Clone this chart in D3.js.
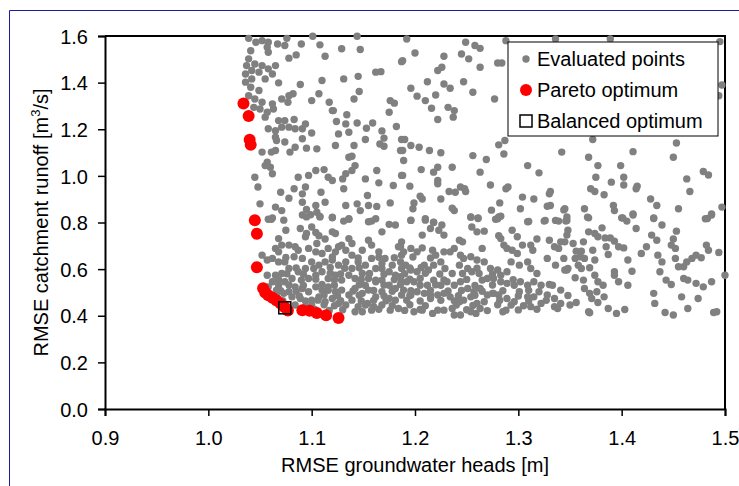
<!DOCTYPE html>
<meta charset="utf-8">
<style>
body { margin: 0; background: #fff; }
text { font-family: 'Liberation Sans', Arial, sans-serif; fill: #000; }
</style>
<body>
<svg width="739" height="486"></svg>
<script src="https://d3js.org/d3.v7.min.js"></script>
<script>

// evaluated points [RMSE heads, RMSE runoff]
var evaluated = [
 [1.039,1.590],[1.046,1.573],[1.052,1.580],[1.058,1.573],[1.057,1.552],[1.067,1.566],[1.076,1.590],[1.074,1.559],
 [1.090,1.566],[1.101,1.599],[1.108,1.562],[1.129,1.545],[1.144,1.599],[1.147,1.542],[1.113,1.513],[1.085,1.519],
 [1.078,1.505],[1.058,1.530],[1.041,1.537],[1.039,1.502],[1.045,1.480],[1.052,1.473],[1.037,1.473],[1.036,1.437],
 [1.042,1.452],[1.049,1.445],[1.058,1.459],[1.065,1.473],[1.062,1.437],[1.055,1.416],[1.068,1.399],[1.042,1.416],
 [1.036,1.402],[1.041,1.380],[1.049,1.366],[1.039,1.344],[1.045,1.330],[1.052,1.316],[1.044,1.294],[1.050,1.287],
 [1.057,1.273],[1.062,1.309],[1.071,1.330],[1.078,1.344],[1.082,1.352],[1.077,1.316],[1.089,1.392],[1.110,1.409],
 [1.131,1.416],[1.145,1.427],[1.162,1.445],[1.167,1.447],[1.187,1.490],[1.100,1.323],[1.107,1.352],[1.117,1.316],
 [1.121,1.280],[1.134,1.262],[1.141,1.330],[1.146,1.362],[1.176,1.323],[1.180,1.312],[1.175,1.273],[1.182,1.212],
 [1.159,1.227],[1.153,1.204],[1.168,1.193],[1.170,1.162],[1.187,1.156],[1.186,1.109],[1.166,1.137],[1.170,1.127],
 [1.152,1.156],[1.144,1.227],[1.133,1.223],[1.136,1.187],[1.126,1.180],[1.124,1.233],[1.123,1.130],[1.141,1.130],
 [1.136,1.080],[1.139,1.084],[1.120,1.280],[1.094,1.223],[1.100,1.184],[1.083,1.242],[1.084,1.202],[1.074,1.237],
 [1.068,1.237],[1.063,1.287],[1.055,1.252],[1.058,1.202],[1.065,1.194],[1.071,1.209],[1.078,1.209],[1.091,1.202],
 [1.091,1.159],[1.095,1.119],[1.105,1.116],[1.084,1.123],[1.079,1.102],[1.074,1.145],[1.066,1.152],[1.065,1.166],
 [1.052,1.102],[1.061,1.102],[1.065,1.109],[1.057,1.059],[1.055,1.044],[1.060,1.037],[1.062,1.009],[1.045,0.994],
 [1.048,0.952],[1.070,0.930],[1.078,0.904],[1.083,0.945],[1.094,0.952],[1.091,0.923],[1.091,0.887],[1.087,0.994],
 [1.097,1.002],[1.104,1.023],[1.112,1.027],[1.116,0.994],[1.120,0.980],[1.109,0.930],[1.113,0.887],[1.104,0.873],
 [1.105,0.844],[1.095,0.856],[1.099,0.833],[1.108,0.826],[1.120,0.823],[1.130,0.987],[1.133,1.009],[1.139,1.023],
 [1.142,1.044],[1.152,0.987],[1.165,0.970],[1.163,1.023],[1.179,0.959],[1.187,1.002],[1.131,0.945],[1.133,0.873],
 [1.144,0.880],[1.154,0.916],[1.155,0.873],[1.163,0.869],[1.176,0.884],[1.147,0.851],[1.136,0.816],[1.162,0.816],
 [1.050,0.880],[1.065,0.866],[1.071,0.851],[1.062,0.819],
 [1.192,1.587],[1.200,1.527],[1.188,1.494],[1.212,1.404],[1.228,1.513],[1.226,1.466],[1.222,1.452],[1.228,1.394],
 [1.234,1.376],[1.196,1.376],[1.202,1.342],[1.210,1.323],[1.220,1.347],[1.216,1.290],[1.232,1.294],[1.238,1.280],
 [1.237,1.252],[1.222,1.242],[1.249,1.573],[1.258,1.559],[1.263,1.547],[1.245,1.523],[1.252,1.502],[1.263,1.466],
 [1.247,1.404],[1.256,1.359],[1.277,1.330],[1.280,1.484],[1.284,1.484],[1.288,1.580],[1.336,1.587],[1.190,1.156],
 [1.196,1.130],[1.204,1.123],[1.214,1.109],[1.225,1.099],[1.188,1.109],[1.189,1.066],[1.188,1.002],[1.206,1.027],
 [1.218,1.016],[1.222,1.037],[1.236,1.037],[1.222,0.980],[1.222,0.966],[1.195,0.956],[1.205,0.913],[1.207,0.901],
 [1.199,0.884],[1.198,0.859],[1.225,0.901],[1.233,0.933],[1.239,0.930],[1.244,0.952],[1.248,0.945],[1.249,0.933],
 [1.256,1.087],[1.269,1.070],[1.263,1.016],[1.273,0.961],[1.281,1.133],[1.287,1.152],[1.286,1.094],[1.288,0.945],
 [1.290,0.952],[1.282,0.884],[1.274,0.853],[1.283,0.827],[1.280,0.816],[1.254,0.823],[1.261,0.819],[1.236,0.861],
 [1.238,0.851],[1.309,1.044],[1.320,1.013],[1.342,1.102],[1.331,0.933],[1.330,0.923],[1.304,0.909],[1.315,0.901],
 [1.302,0.859],[1.328,0.870],[1.331,0.873],[1.344,0.854],[1.310,0.804],[1.326,0.809],[1.336,0.809],[1.347,0.809],
 [1.210,0.816],[1.196,0.809],[1.218,0.801],
 [1.389,1.587],[1.495,1.576],[1.494,1.344],[1.372,1.156],[1.411,1.104],[1.453,1.141],[1.450,1.080],[1.368,1.080],
 [1.377,1.044],[1.399,1.044],[1.375,0.994],[1.390,0.973],[1.402,0.994],[1.402,0.961],[1.415,0.956],[1.414,0.945],
 [1.370,0.945],[1.374,0.933],[1.383,0.919],[1.463,0.987],[1.479,1.019],[1.484,1.004],[1.466,0.933],[1.428,0.901],
 [1.434,0.873],[1.392,0.873],[1.393,0.851],[1.411,0.837],[1.401,0.819],[1.455,0.859],[1.487,0.837],[1.497,0.866],
 [1.345,0.859],[1.364,0.859],[1.367,0.823],[1.431,0.819],[1.481,0.816],[1.497,1.390],
 [1.058,0.814],[1.061,0.814],[1.073,0.810],[1.091,0.832],[1.095,0.824],[1.108,0.824],[1.120,0.820],[1.131,0.806],
 [1.136,0.814],[1.155,0.803],[1.158,0.806],[1.175,0.792],[1.075,0.767],[1.089,0.774],[1.100,0.781],[1.095,0.753],
 [1.104,0.757],[1.094,0.739],[1.107,0.743],[1.113,0.729],[1.120,0.760],[1.123,0.753],[1.136,0.731],[1.129,0.703],
 [1.139,0.710],[1.155,0.724],[1.158,0.703],[1.168,0.760],[1.181,0.789],[1.187,0.717],[1.068,0.731],[1.071,0.703],
 [1.065,0.689],[1.068,0.674],[1.078,0.703],[1.084,0.696],[1.087,0.681],[1.083,0.653],[1.091,0.646],[1.097,0.689],
 [1.105,0.710],[1.104,0.674],[1.110,0.667],[1.116,0.689],[1.123,0.674],[1.126,0.696],[1.133,0.681],[1.139,0.660],
 [1.149,0.681],[1.158,0.646],[1.165,0.674],[1.171,0.646],[1.178,0.617],[1.184,0.696],[1.187,0.660],[1.052,0.660],
 [1.057,0.639],[1.062,0.646],[1.068,0.631],[1.074,0.631],[1.078,0.603],[1.071,0.581],[1.065,0.574],[1.057,0.574],
 [1.062,0.546],[1.068,0.531],[1.074,0.546],[1.081,0.560],[1.087,0.589],[1.094,0.603],[1.100,0.631],[1.107,0.617],
 [1.113,0.631],[1.120,0.639],[1.126,0.617],[1.133,0.631],[1.139,0.603],[1.145,0.631],[1.152,0.617],[1.162,0.603],
 [1.168,0.624],[1.175,0.589],[1.181,0.574],[1.187,0.603],[1.097,0.560],[1.104,0.574],[1.110,0.589],[1.116,0.560],
 [1.123,0.574],[1.129,0.553],[1.136,0.574],[1.142,0.560],[1.149,0.581],[1.155,0.560],[1.162,0.546],[1.168,0.553],
 [1.175,0.531],[1.181,0.517],[1.187,0.546],[1.084,0.524],[1.091,0.517],[1.097,0.503],[1.104,0.524],[1.110,0.510],
 [1.116,0.524],[1.123,0.503],[1.129,0.510],[1.136,0.489],[1.142,0.517],[1.149,0.496],[1.155,0.510],[1.162,0.481],
 [1.168,0.503],[1.175,0.474],[1.181,0.467],[1.187,0.489],[1.081,0.481],[1.089,0.474],[1.100,0.467],[1.107,0.481],
 [1.113,0.460],[1.120,0.474],[1.126,0.453],[1.133,0.446],[1.139,0.467],[1.145,0.439],[1.154,0.453],[1.160,0.439],
 [1.168,0.446],[1.176,0.424],[1.184,0.431],[1.084,0.446],[1.094,0.439],[1.142,0.417],[1.149,0.417],[1.058,0.524],
 [1.066,0.510],[1.073,0.496],[1.078,0.503],
 [1.196,0.810],[1.210,0.810],[1.218,0.800],[1.226,0.789],[1.215,0.774],[1.223,0.767],[1.228,0.746],[1.207,0.746],
 [1.254,0.824],[1.261,0.817],[1.278,0.814],[1.281,0.824],[1.309,0.803],[1.325,0.806],[1.339,0.806],[1.346,0.806],
 [1.255,0.781],[1.260,0.760],[1.267,0.763],[1.294,0.767],[1.299,0.739],[1.281,0.743],[1.283,0.731],[1.318,0.729],
 [1.330,0.724],[1.341,0.717],[1.347,0.746],[1.243,0.724],[1.246,0.717],[1.265,0.689],[1.286,0.703],[1.289,0.689],
 [1.294,0.681],[1.299,0.667],[1.304,0.703],[1.312,0.703],[1.314,0.681],[1.335,0.696],[1.339,0.689],[1.186,0.696],
 [1.189,0.674],[1.196,0.689],[1.202,0.674],[1.207,0.691],[1.217,0.681],[1.220,0.660],[1.228,0.674],[1.234,0.674],
 [1.238,0.689],[1.244,0.660],[1.247,0.646],[1.254,0.653],[1.260,0.639],[1.267,0.631],[1.273,0.603],[1.280,0.596],
 [1.283,0.574],[1.289,0.589],[1.293,0.631],[1.301,0.617],[1.309,0.631],[1.312,0.603],[1.318,0.581],[1.328,0.646],
 [1.336,0.617],[1.344,0.646],[1.347,0.596],[1.186,0.631],[1.191,0.617],[1.196,0.596],[1.202,0.589],[1.209,0.617],
 [1.213,0.596],[1.218,0.617],[1.225,0.631],[1.229,0.603],[1.236,0.581],[1.243,0.617],[1.251,0.603],[1.255,0.589],
 [1.262,0.581],[1.270,0.560],[1.276,0.560],[1.283,0.546],[1.289,0.539],[1.296,0.531],[1.302,0.546],[1.309,0.531],
 [1.315,0.546],[1.322,0.531],[1.333,0.531],[1.341,0.510],[1.186,0.567],[1.192,0.546],[1.199,0.546],[1.205,0.560],
 [1.212,0.531],[1.218,0.553],[1.225,0.531],[1.231,0.546],[1.238,0.531],[1.244,0.546],[1.251,0.517],[1.257,0.503],
 [1.263,0.517],[1.270,0.489],[1.276,0.496],[1.281,0.489],[1.289,0.474],[1.301,0.503],[1.309,0.481],[1.315,0.481],
 [1.320,0.503],[1.328,0.489],[1.335,0.474],[1.341,0.453],[1.189,0.510],[1.196,0.489],[1.202,0.503],[1.209,0.496],
 [1.215,0.474],[1.222,0.489],[1.228,0.496],[1.234,0.481],[1.243,0.460],[1.247,0.467],[1.254,0.481],[1.260,0.453],
 [1.267,0.460],[1.263,0.431],[1.275,0.496],[1.296,0.460],[1.293,0.446],[1.288,0.424],[1.285,0.417],[1.312,0.439],
 [1.322,0.453],[1.335,0.439],[1.338,0.431],[1.199,0.417],[1.207,0.424],[1.217,0.410],[1.228,0.424],[1.236,0.431],
 [1.238,0.403],[1.244,0.403],[1.259,0.410],[1.254,0.417],
 [1.347,0.824],[1.368,0.820],[1.400,0.820],[1.405,0.806],[1.411,0.832],[1.431,0.817],[1.439,0.789],[1.414,0.774],
 [1.348,0.767],[1.368,0.760],[1.374,0.753],[1.377,0.739],[1.381,0.777],[1.345,0.717],[1.353,0.710],[1.363,0.717],
 [1.384,0.734],[1.389,0.734],[1.393,0.720],[1.385,0.696],[1.397,0.696],[1.402,0.691],[1.387,0.663],[1.372,0.681],
 [1.356,0.677],[1.361,0.677],[1.355,0.646],[1.360,0.653],[1.364,0.646],[1.358,0.617],[1.361,0.603],[1.369,0.606],
 [1.374,0.639],[1.345,0.596],[1.348,0.603],[1.355,0.563],[1.363,0.553],[1.374,0.574],[1.377,0.546],[1.382,0.531],
 [1.393,0.589],[1.393,0.574],[1.397,0.546],[1.406,0.531],[1.410,0.591],[1.406,0.639],[1.364,0.517],[1.369,0.496],
 [1.376,0.503],[1.371,0.474],[1.377,0.457],[1.383,0.481],[1.356,0.457],[1.368,0.417],[1.369,0.413],[1.387,0.431],
 [1.395,0.410],[1.403,0.427],[1.419,0.667],[1.424,0.696],[1.429,0.746],[1.434,0.724],[1.435,0.660],[1.439,0.631],
 [1.437,0.589],[1.443,0.553],[1.448,0.534],[1.431,0.496],[1.432,0.453],[1.442,0.414],[1.450,0.403],[1.453,0.763],
 [1.450,0.729],[1.448,0.703],[1.452,0.689],[1.452,0.646],[1.455,0.610],[1.460,0.610],[1.463,0.631],[1.468,0.646],
 [1.472,0.660],[1.477,0.649],[1.482,0.703],[1.484,0.681],[1.494,0.671],[1.460,0.560],[1.464,0.553],[1.472,0.539],
 [1.479,0.524],[1.487,0.546],[1.458,0.481],[1.464,0.431],[1.474,0.474],[1.489,0.414],[1.492,0.417],[1.500,0.574],
 [1.483,0.817],[1.487,0.832],
 // dense core of the cloud
 [1.090,0.425],[1.103,0.427],[1.117,0.423],[1.130,0.426],[1.158,0.424],[1.165,0.428],[1.190,0.423],[1.205,0.427],
 [1.222,0.424],[1.250,0.426],[1.270,0.422],[1.300,0.425],[1.318,0.428],
 [1.100,0.445],[1.112,0.447],[1.122,0.443],[1.152,0.446],[1.178,0.444],[1.195,0.447],[1.210,0.443],[1.240,0.446],
 [1.256,0.444],[1.280,0.447],[1.305,0.443],[1.350,0.446],
 [1.072,0.465],[1.094,0.463],[1.106,0.467],[1.128,0.465],[1.148,0.463],[1.160,0.466],[1.172,0.464],[1.192,0.467],
 [1.205,0.463],[1.225,0.466],[1.238,0.464],[1.282,0.467],[1.310,0.463],[1.327,0.466],
 [1.066,0.487],[1.088,0.485],[1.112,0.489],[1.125,0.486],[1.146,0.488],[1.170,0.485],[1.195,0.487],[1.215,0.489],
 [1.242,0.486],[1.258,0.488],[1.300,0.485],[1.348,0.487],
 [1.070,0.507],[1.085,0.505],[1.116,0.509],[1.140,0.506],[1.160,0.508],[1.178,0.505],[1.196,0.507],[1.215,0.509],
 [1.232,0.506],[1.245,0.508],[1.265,0.505],[1.285,0.507],[1.310,0.509],
 [1.078,0.532],[1.092,0.530],[1.110,0.534],[1.122,0.531],[1.146,0.533],[1.152,0.530],[1.170,0.532],[1.186,0.534],
 [1.205,0.531],[1.220,0.533],[1.258,0.530],[1.275,0.532],[1.330,0.534],
 [1.068,0.555],[1.090,0.553],[1.104,0.557],[1.122,0.554],[1.148,0.556],[1.162,0.553],[1.180,0.555],[1.195,0.557],
 [1.228,0.554],[1.250,0.556],[1.265,0.553],[1.295,0.555],
 [1.076,0.580],[1.092,0.578],[1.118,0.582],[1.128,0.579],[1.156,0.581],[1.170,0.578],[1.190,0.580],[1.210,0.582],
 [1.224,0.579],[1.246,0.581],[1.275,0.578],
 [1.085,0.605],[1.102,0.603],[1.118,0.607],[1.132,0.604],[1.146,0.606],[1.168,0.603],[1.195,0.605],[1.206,0.607],
 [1.260,0.604],
 [1.075,0.650],[1.120,0.652],[1.145,0.648],[1.165,0.651],[1.180,0.649],[1.198,0.652],[1.215,0.648]
];

// Pareto optimum points
var pareto = [
 [1.034,1.310],[1.039,1.257],[1.040,1.155],[1.041,1.133],[1.045,0.810],[1.047,0.752],[1.047,0.608],[1.053,0.518],
 [1.055,0.500],[1.058,0.488],[1.062,0.477],[1.066,0.465],[1.070,0.452],[1.074,0.436],[1.077,0.422],[1.091,0.424],
 [1.098,0.421],[1.105,0.412],[1.114,0.402],[1.126,0.390]
];

var balanced = [1.074, 0.434];

var xTicks = [0.9, 1.0, 1.1, 1.2, 1.3, 1.4, 1.5];
var yTicks = [0.0, 0.2, 0.4, 0.6, 0.8, 1.0, 1.2, 1.4, 1.6];
var legendLabels = ["Evaluated points", "Pareto optimum", "Balanced optimum"];

var svg = d3.select("svg");

// blue outer frame
svg.append("path")
    .attr("d", "M9.5,486V10.5H739")
    .attr("fill", "none")
    .attr("stroke", "#1c1ca0")
    .attr("stroke-width", 1);

var margin = {left: 105, right: 14, top: 36, bottom: 77},
    width = 739 - margin.left - margin.right,
    height = 486 - margin.top - margin.bottom;

var x = d3.scaleLinear().domain([0.9, 1.5]).range([0, width]);
var y = d3.scaleLinear().domain([0, 1.6]).range([height, 0]);

var g = svg.append("g").attr("transform", "translate(" + margin.left + "," + margin.top + ")");

// frame on top and right
g.append("path")
    .attr("d", "M0,0H" + width + "V" + height)
    .attr("fill", "none")
    .attr("stroke", "#000")
    .attr("stroke-width", 2);

var xAxis = g.append("g")
    .attr("transform", "translate(0," + height + ")")
    .call(d3.axisBottom(x).tickValues(xTicks).tickFormat(d3.format(".1f")).tickSizeOuter(0).tickSize(7).tickPadding(15));

var yAxis = g.append("g")
    .call(d3.axisLeft(y).tickValues(yTicks).tickFormat(d3.format(".1f")).tickSizeOuter(0).tickSize(7).tickPadding(10));

[xAxis, yAxis].forEach(function(a) {
  a.select(".domain").attr("stroke-width", 2);
  a.selectAll(".tick line").attr("stroke-width", 1.5);
  a.selectAll(".tick text").attr("font-size", 20).attr("font-family", "'Liberation Sans', Arial, sans-serif");
});
yAxis.selectAll(".tick text").attr("dy", "0.36em");

// points
g.selectAll("circle.ev")
    .data(evaluated)
    .enter().append("circle")
    .attr("class", "ev")
    .attr("cx", d => x(d[0]))
    .attr("cy", d => y(d[1]))
    .attr("r", 3.7)
    .attr("fill", "#808080");

g.selectAll("circle.par")
    .data(pareto)
    .enter().append("circle")
    .attr("class", "par")
    .attr("cx", d => x(d[0]))
    .attr("cy", d => y(d[1]))
    .attr("r", 6)
    .attr("fill", "#ff0000");

g.append("rect")
    .attr("x", x(balanced[0]) - 6)
    .attr("y", y(balanced[1]) - 6)
    .attr("width", 12)
    .attr("height", 12)
    .attr("fill", "none")
    .attr("stroke", "#000")
    .attr("stroke-width", 1.5);

// axis titles
svg.append("text")
    .attr("x", margin.left + width / 2)
    .attr("y", 472)
    .attr("text-anchor", "middle")
    .attr("font-size", 20)
    .text("RMSE groundwater heads [m]");

var yt = svg.append("text")
    .attr("transform", "translate(48," + (margin.top + height / 2) + ") rotate(-90)")
    .attr("text-anchor", "middle")
    .attr("font-size", 20);
yt.append("tspan").text("RMSE catchment runoff [m");
yt.append("tspan").attr("font-size", 13).attr("dy", -8).text("3");
yt.append("tspan").attr("dy", 8).text("/s]");

// legend
var lg = svg.append("g").attr("transform", "translate(508,42)");
lg.append("rect")
    .attr("width", 210)
    .attr("height", 94)
    .attr("fill", "#fff")
    .attr("stroke", "#000")
    .attr("stroke-width", 1);

var rows = lg.selectAll("g.row")
    .data(legendLabels)
    .enter().append("g")
    .attr("transform", (d, i) => "translate(0," + (17 + i * 31) + ")");

rows.append("text")
    .attr("x", 29)
    .attr("y", 7)
    .attr("font-size", 20)
    .text(d => d);

rows.filter((d, i) => i === 0).append("circle")
    .attr("cx", 18).attr("r", 3.7).attr("fill", "#808080");
rows.filter((d, i) => i === 1).append("circle")
    .attr("cx", 18).attr("r", 6).attr("fill", "#ff0000");
rows.filter((d, i) => i === 2).append("rect")
    .attr("x", 12).attr("y", -6).attr("width", 12).attr("height", 12)
    .attr("fill", "#fff").attr("stroke", "#000").attr("stroke-width", 1.5);

</script>
</body>
